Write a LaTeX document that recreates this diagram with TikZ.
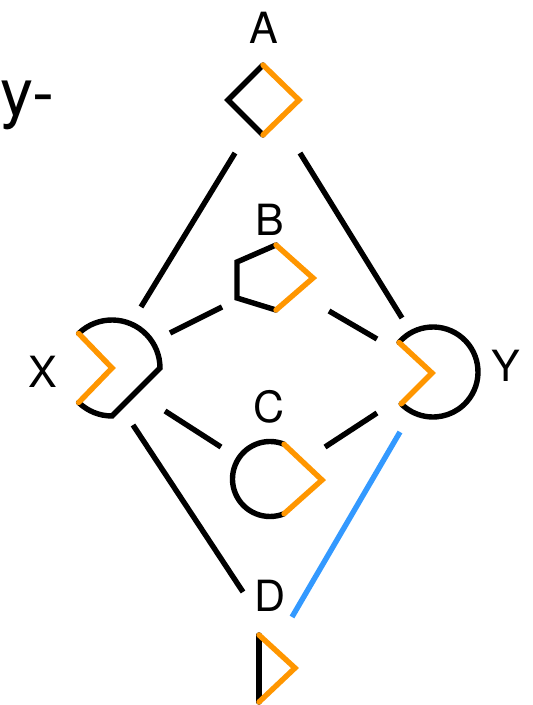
\documentclass[tikz,border=0pt]{standalone}
\usepackage{fontspec}
\setmainfont{TeX Gyre Heros}
\usetikzlibrary{calc}
\definecolor{shorange}{RGB}{255,150,0}
\definecolor{shblue}{RGB}{51,153,255}
\begin{document}
\begin{tikzpicture}[x=1pt,y=1pt,
  conn/.style={draw=black, line width=5.4pt},
  blk/.style={draw=black, line width=5.4pt, line cap=round},
  org/.style={draw=shorange, line width=5.4pt, line cap=round},
  lbl/.style={inner sep=0pt, font=\fontsize{43}{43}\selectfont}]
\useasboundingbox (0,0) rectangle (533,705);
% hubs
\coordinate (A) at (263,605);
\coordinate (B) at (268,426);
\coordinate (C) at (270,226);
\coordinate (D) at (271,37);
\coordinate (X) at (112,337);
\coordinate (Y) at (433,333);
% text at the left edge
\node[anchor=base west, inner sep=0pt, font=\fontsize{66}{66}\selectfont] (yh) at (0,589) {y-};
% labels
\node[lbl] (LA) at (264,677) {A};
\node[lbl] (LB) at (270,485) {B};
\node[lbl] (LC) at (269,298) {C};
\node[lbl] (LD) at (270,109) {D};
\node[lbl] (LX) at (43,333) {X};
\node[lbl] (LY) at (506,339) {Y};
% A diamond
\begin{scope}[shift={(A)}]
\draw[blk] (0,-35) -- (-35,0) -- (0,35);
\draw[org] (0,35) -- (36,0) -- (0,-35);
\end{scope}
% B pentagon
\begin{scope}[shift={(B)}]
\draw[blk] (8,-31) -- (-31,-19) -- (-31,17) -- (8,34);
\draw[org] (8,34) -- (45,1) -- (8,-31);
\end{scope}
% C drop
\begin{scope}[shift={(C)}]
\draw[blk] (68:37.5) arc[start angle=68, end angle=292, radius=37.5];
\draw[org] (68:37.5) -- (52,-1) -- (-68:37.5);
\end{scope}
% D triangle
\begin{scope}[shift={(D)}]
\draw[blk] (-12,-34) -- (-12,33);
\draw[org] (-12,33) -- (24,0) -- (-12,-34);
\end{scope}
% X
\begin{scope}[shift={(X)}]
\draw[blk] (134:48) arc[start angle=134, end angle=0, radius=48] -- (0,-48) arc[start angle=270, end angle=226, radius=48];
\draw[org] (134:48) -- (0,0) -- (226:48);
\end{scope}
% Y
\begin{scope}[shift={(Y)}]
\draw[blk] (139:45) arc[start angle=139, end angle=-135, radius=45];
\draw[org] (139:45) -- (-1,-1) -- (225:45);
\end{scope}
% connectors
\draw[conn] ($(A)+(-28,-53)$) -- ($(X)+(29,61)$);
\draw[conn] ($(A)+(37,-53)$) -- ($(Y)+(-31,54)$);
\draw[conn] ($(X)+(58,35)$) -- ($(B)+(-46,-28)$);
\draw[conn] ($(B)+(61,-32)$) -- ($(Y)+(-56,33)$);
\draw[conn] ($(X)+(53,-43)$) -- ($(C)+(-49,32)$);
\draw[conn] ($(C)+(55,32)$) -- ($(Y)+(-56,-41)$);
\draw[conn] ($(X)+(21,-57)$) -- ($(D)+(-28,76)$);
\draw[conn, draw=shblue] ($(Y)+(-33,-60)$) -- ($(D)+(21,51)$);
\end{tikzpicture}
\end{document}
